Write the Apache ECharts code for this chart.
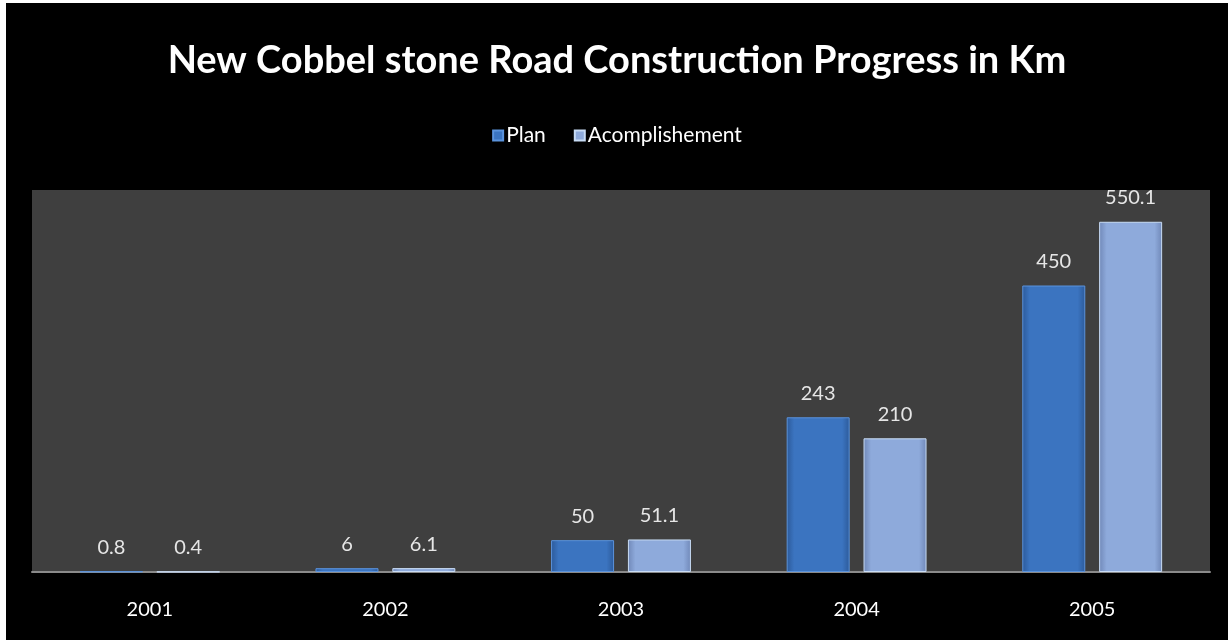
<!DOCTYPE html>
<html>
<head>
<meta charset="utf-8">
<script src="https://cdn.jsdelivr.net/npm/echarts@6/dist/echarts.min.js"></script>
<style>
    html, body { margin: 0; padding: 0; background: #fff; }
    #chart { position: absolute; left: 6px; top: 3px; width: 1222px; height: 637px; background: #000; }
</style>
</head>
<body>
<div id="chart"></div>
<script>
const years = ['2001', '2002', '2003', '2004', '2005'];
const plan = [0.8, 6, 50, 243, 450];
const accomplishment = [0.4, 6.1, 51.1, 210, 550.1];

const font = 'Lato';

// horizontal gradient to fake the bevel look of the bars
const bevel = (edge, mid) => new echarts.graphic.LinearGradient(0, 0, 1, 0, [
    { offset: 0, color: edge },
    { offset: 0.12, color: mid },
    { offset: 0.88, color: mid },
    { offset: 1, color: edge }
]);

const label = {
    show: true,
    position: 'top',
    distance: 14,
    color: '#e6e6e6',
    fontSize: 20,
    fontFamily: font
};

const chart = echarts.init(document.getElementById('chart'));
chart.setOption({
    backgroundColor: '#000',
    title: {
        text: 'New Cobbel stone Road Construction Progress in Km',
        left: 'center',
        top: 34,
        textStyle: { color: '#fff', fontSize: 38, fontWeight: 'bold', fontFamily: font }
    },
    legend: {
        top: 117,
        left: 'center',
        itemWidth: 10,
        itemHeight: 10,
        itemGap: 28,
        icon: 'rect',
        textStyle: { color: '#fff', fontSize: 21, fontFamily: font, padding: [0, 0, 0, -2] },
        data: ['Plan', 'Acomplishement']
    },
    grid: {
        left: 26,
        right: 18,
        top: 187,
        bottom: 68,
        show: true,
        backgroundColor: '#3f3f3f',
        borderWidth: 0
    },
    xAxis: {
        type: 'category',
        data: years,
        axisLine: { lineStyle: { color: '#8a8a8a', width: 2 } },
        axisTick: { show: false },
        axisLabel: { color: '#fff', fontSize: 20, fontFamily: font, margin: 28 }
    },
    yAxis: {
        type: 'value',
        min: 0,
        max: 600,
        show: false,
        splitLine: { show: false }
    },
    series: [
        {
            name: 'Plan',
            type: 'bar',
            data: plan,
            barWidth: 63,
            barGap: '22%',
            itemStyle: {
                color: bevel('#2c5a9a', '#3b74c0'),
                borderColor: '#5b93dc',
                borderWidth: 1
            },
            label
        },
        {
            name: 'Acomplishement',
            type: 'bar',
            data: accomplishment,
            barWidth: 63,
            itemStyle: {
                color: bevel('#7088b8', '#8eaadb'),
                borderColor: '#c8dcf5',
                borderWidth: 1
            },
            label
        }
    ]
});
</script>
</body>
</html>
